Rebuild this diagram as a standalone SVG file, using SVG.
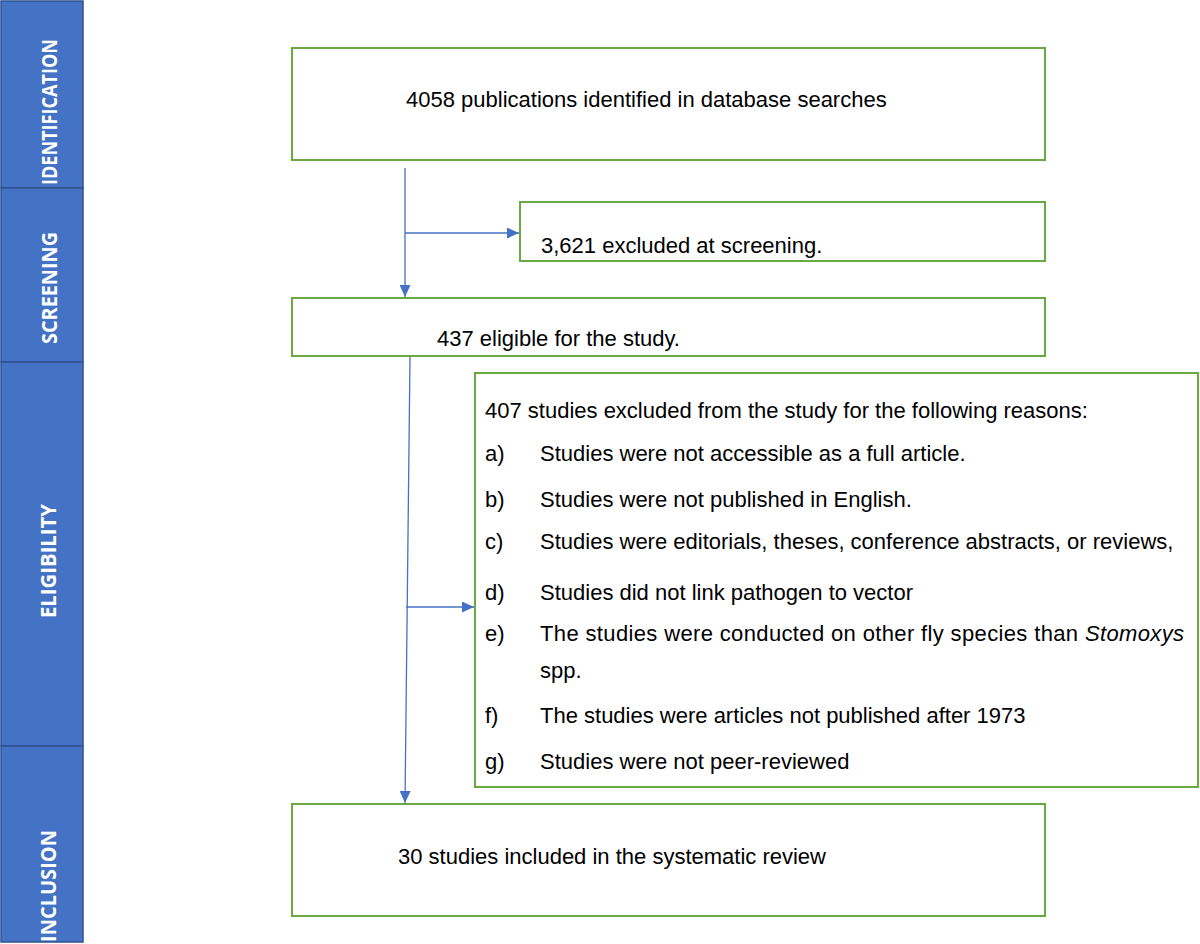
<svg xmlns="http://www.w3.org/2000/svg" width="1200" height="944" viewBox="0 0 1200 944">
<defs>
<style>
.phase{fill:#4472C4;stroke:#2F528F;stroke-width:1.5}
.plab{fill:#fff;font-family:"Open Sans","Noto Sans",sans-serif;font-weight:bold;font-size:21px;text-anchor:middle}
.box{fill:#fff;stroke:#6AA842;stroke-width:2}
.t{fill:#000;font-family:"Liberation Sans",Arial,sans-serif;font-size:22px}
.conn{stroke:#4472C4;stroke-width:1.3;fill:none}
</style>
<marker id="ah" viewBox="0 0 12 11" refX="12" refY="5.5" markerWidth="12" markerHeight="11" markerUnits="userSpaceOnUse" orient="auto">
<path d="M0,0 L12,5.5 L0,11 z" fill="#4472C4"/>
</marker>
</defs>
<rect width="1200" height="944" fill="#fff"/>
<g id="phases">
<rect class="phase" x="1" y="1" width="82" height="187"/>
<rect class="phase" x="1" y="188" width="82" height="174"/>
<rect class="phase" x="1" y="362" width="82" height="384"/>
<rect class="phase" x="1" y="746" width="82" height="196"/>
<text class="plab" transform="translate(57,112) rotate(-90)" textLength="146" lengthAdjust="spacingAndGlyphs">IDENTIFICATION</text>
<text class="plab" transform="translate(57,288) rotate(-90)" textLength="112" lengthAdjust="spacingAndGlyphs">SCREENING</text>
<text class="plab" transform="translate(56,561) rotate(-90)" textLength="114" lengthAdjust="spacingAndGlyphs">ELIGIBILITY</text>
<text class="plab" transform="translate(56,886) rotate(-90)" textLength="112" lengthAdjust="spacingAndGlyphs">INCLUSION</text>
</g>
<g id="connectors">
<line class="conn" x1="405" y1="168" x2="405" y2="297" marker-end="url(#ah)"/>
<line class="conn" x1="405" y1="233" x2="519" y2="233" marker-end="url(#ah)"/>
<line class="conn" x1="410" y1="357" x2="405" y2="803" marker-end="url(#ah)"/>
<line class="conn" x1="406" y1="607" x2="474" y2="607" marker-end="url(#ah)"/>
</g>
<g id="n1">
<rect class="box" x="292" y="48" width="753" height="112"/>
<text class="t" x="406" y="107">4058 publications identified in database searches</text>
</g>
<g id="n2">
<rect class="box" x="520" y="202" width="525" height="59"/>
<text class="t" x="541" y="253">3,621 excluded at screening.</text>
</g>
<g id="n3">
<rect class="box" x="292" y="298" width="753" height="58"/>
<text class="t" x="437" y="346">437 eligible for the study.</text>
</g>
<g id="n4">
<rect class="box" x="475" y="373" width="723" height="414"/>
<text class="t" x="485" y="418">407 studies excluded from the study for the following reasons:</text>
<text class="t" x="485" y="461">a)</text><text class="t" x="540" y="461">Studies were not accessible as a full article.</text>
<text class="t" x="485" y="507">b)</text><text class="t" x="540" y="507">Studies were not published in English.</text>
<text class="t" x="485" y="549">c)</text><text class="t" x="540" y="549">Studies were editorials, theses, conference abstracts, or reviews,</text>
<text class="t" x="485" y="600">d)</text><text class="t" x="540" y="600">Studies did not link pathogen to vector</text>
<text class="t" x="485" y="641">e)</text><text class="t" x="540" y="641" textLength="644" lengthAdjust="spacing">The studies were conducted on other fly species than <tspan font-style="italic">Stomoxys</tspan></text>
<text class="t" x="540" y="678">spp.</text>
<text class="t" x="485" y="723">f)</text><text class="t" x="540" y="723">The studies were articles not published after 1973</text>
<text class="t" x="485" y="769">g)</text><text class="t" x="540" y="769">Studies were not peer-reviewed</text>
</g>
<g id="n5">
<rect class="box" x="292" y="804" width="753" height="112"/>
<text class="t" x="398" y="864">30 studies included in the systematic review</text>
</g>
</svg>
